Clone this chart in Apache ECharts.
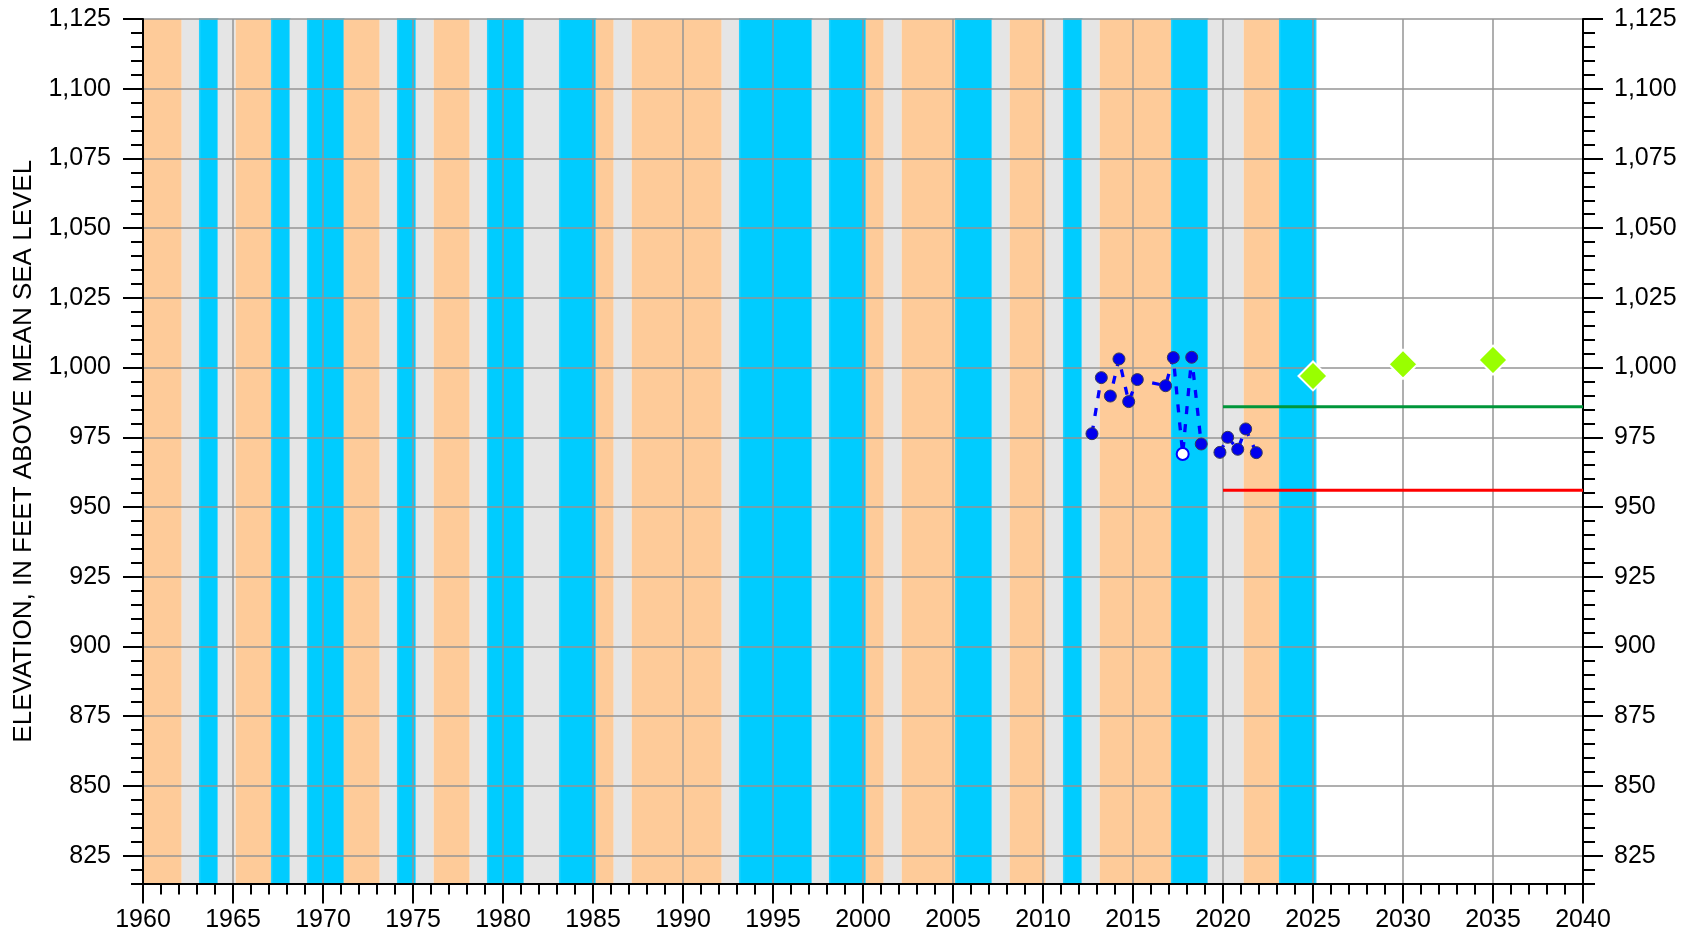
<!DOCTYPE html>
<html>
<head>
<meta charset="utf-8">
<script src="https://cdn.jsdelivr.net/npm/echarts@6/dist/echarts.min.js"></script>
<style>
html,body{margin:0;padding:0;background:#fff;}
#chart{width:1687px;height:938px;}
</style>
</head>
<body>
<div id="chart"></div>
<script>
// ---- data ----
// Annual climate classification bands (D = dry/orange, N = normal/gray, W = wet/blue), one per year starting 1959
const bandFirstYear = 1959;
const bandClasses = [
  'D','D','D','N','W','N','D','D','W','N', // 1959-1968
  'W','W','D','D','N','W','N','D','D','N', // 1969-1978
  'W','W','N','N','W','W','D','N','D','D', // 1979-1988
  'D','D','D','N','W','W','W','W','N','W', // 1989-1998
  'W','D','N','D','D','D','W','W','N','D', // 1999-2008
  'D','N','W','N','D','D','D','D','W','W', // 2009-2018
  'N','N','D','D','W','W'                  // 2019-2024
];
const bandYearShift = 0.15;

// Measured water levels
const measYears = [2012.72, 2013.24, 2013.74, 2014.22, 2014.76, 2015.24, 2016.81, 2017.24, 2017.76, 2018.26, 2018.79,
                   2019.83, 2020.26, 2020.82, 2021.26, 2021.85];
const measElev  = [976.3, 996.4, 989.8, 1003.1, 987.8, 995.7, 993.5, 1003.6, 969.0, 1003.7, 972.6,
                   969.6, 975.0, 970.7, 978.0, 969.5];
const measOpen  = [0,0,0,0,0,0,0,0,1,0,0, 0,0,0,0,0];
const measSegments = [[0, 10], [11, 15]];

// Projected levels
const projYears = [2025, 2030, 2035];
const projElev  = [997.0, 1001.2, 1002.7];

// Reference levels
const refYears = [2020, 2040];
const greenLevel = 986;
const redLevel = 956;

// Axes
const xMin = 1960, xMax = 2040, xMajor = 5, xMinor = 1;
const yMin = 815, yMax = 1125, yMinor = 5;
const yMajorTicks = [825, 850, 875, 900, 925, 950, 975, 1000, 1025, 1050, 1075, 1100, 1125];
const yTitle = 'ELEVATION, IN FEET ABOVE MEAN SEA LEVEL';

// ---- chart ----
const FONT = '"Liberation Sans", Arial, Helvetica, sans-serif';
const bandColors = { D: '#FECB99', N: '#E5E5E5', W: '#00CCFF' };

// merge consecutive years of the same class into one area
const bandAreas = [];
for (let i = 0; i < bandClasses.length; ) {
  let j = i;
  while (j + 1 < bandClasses.length && bandClasses[j + 1] === bandClasses[i]) j++;
  const c = bandClasses[i];
  const x0 = bandFirstYear + i + bandYearShift;
  const x1 = bandFirstYear + j + 1 + bandYearShift;
  const style = { color: bandColors[c], opacity: 1 };
  if (c === 'W') { style.borderColor = '#22d2ff'; style.borderWidth = 1.5; }
  bandAreas.push([{ xAxis: Math.max(x0, xMin), itemStyle: style }, { xAxis: x1 }]);
  i = j + 1;
}

const gridColor = '#959595';
const fmt = v => Number(v).toLocaleString('en-US');

function yMajorAxis(pos, withSplit, withName) {
  const ax = {
    type: 'value', position: pos, min: yMin, max: yMax, z: 3,
    axisLine: { show: true, onZero: false, lineStyle: { color: '#000', width: 2 } },
    axisTick: { show: true, inside: false, length: 20, customValues: yMajorTicks, lineStyle: { color: '#000', width: 2 } },
    axisLabel: { show: true, customValues: yMajorTicks, margin: pos === 'left' ? 32 : 31, formatter: fmt,
                 fontSize: 25, color: '#000', fontFamily: FONT },
    splitLine: { show: withSplit, lineStyle: { color: gridColor, width: 1.5 } }
  };
  if (withName) {
    ax.name = yTitle;
    ax.nameLocation = 'middle';
    ax.nameGap = 106;
    ax.nameTextStyle = { fontSize: 26, color: '#000', fontFamily: FONT };
  }
  return ax;
}
function yMinorAxis(pos) {
  return {
    type: 'value', position: pos, min: yMin, max: yMax, interval: yMinor, z: 3,
    axisLine: { show: false },
    axisTick: { show: true, inside: false, length: 12, lineStyle: { color: '#000', width: 2 } },
    axisLabel: { show: false },
    splitLine: { show: false }
  };
}

const measSeries = measSegments.map(([a, b]) => {
  const data = [];
  for (let i = a; i <= b; i++) {
    const item = { value: [measYears[i], measElev[i]] };
    if (measOpen[i]) item.itemStyle = { color: '#ffffff', borderColor: '#0000ff', borderWidth: 2 };
    data.push(item);
  }
  return {
    type: 'line', xAxisIndex: 0, yAxisIndex: 0, z: 6,
    data, symbol: 'circle', symbolSize: 12, showSymbol: true,
    lineStyle: { color: '#0000ff', width: 3.3, type: [8, 10] },
    itemStyle: { color: '#0000ee', borderColor: '#3a3a5a', borderWidth: 1 },
    animation: false, silent: true
  };
});

const option = {
  animation: false,
  backgroundColor: '#ffffff',
  grid: { left: 143, right: 104, top: 19, bottom: 54.5, containLabel: false },
  xAxis: [
    {
      type: 'value', position: 'bottom', min: xMin, max: xMax, interval: xMajor, z: 3,
      axisLine: { show: true, onZero: false, lineStyle: { color: '#000', width: 2 } },
      axisTick: { show: true, inside: false, length: 20, lineStyle: { color: '#000', width: 2 } },
      axisLabel: { show: true, margin: 24, fontSize: 25, color: '#000', fontFamily: FONT, formatter: v => String(v) },
      splitLine: { show: true, lineStyle: { color: gridColor, width: 1.5 } }
    },
    {
      type: 'value', position: 'bottom', min: xMin, max: xMax, interval: xMinor, z: 3,
      axisLine: { show: false },
      axisTick: { show: true, inside: false, length: 11, lineStyle: { color: '#000', width: 2 } },
      axisLabel: { show: false },
      splitLine: { show: false }
    }
  ],
  yAxis: [
    yMajorAxis('left', true, true),
    yMinorAxis('left'),
    yMajorAxis('right', false, false),
    yMinorAxis('right')
  ],
  series: [
    {
      type: 'line', xAxisIndex: 0, yAxisIndex: 0, z: 1, data: [], silent: true,
      markArea: { silent: true, data: bandAreas }
    },
    {
      type: 'line', xAxisIndex: 0, yAxisIndex: 0, z: 5, silent: true, symbol: 'none',
      data: refYears.map(x => [x, greenLevel]),
      lineStyle: { color: '#00963a', width: 3 }
    },
    {
      type: 'line', xAxisIndex: 0, yAxisIndex: 0, z: 5, silent: true, symbol: 'none',
      data: refYears.map(x => [x, redLevel]),
      lineStyle: { color: '#ff0000', width: 3 }
    },
    ...measSeries,
    {
      type: 'scatter', xAxisIndex: 0, yAxisIndex: 0, z: 7, silent: true,
      symbol: 'diamond', symbolSize: 29,
      data: projYears.map((x, i) => [x, projElev[i]]),
      itemStyle: { color: '#99ff00', borderColor: '#ffffff', borderWidth: 2, opacity: 1 }
    }
  ]
};

const chart = echarts.init(document.getElementById('chart'), null, { renderer: 'canvas' });
chart.setOption(option);
</script>
</body>
</html>
